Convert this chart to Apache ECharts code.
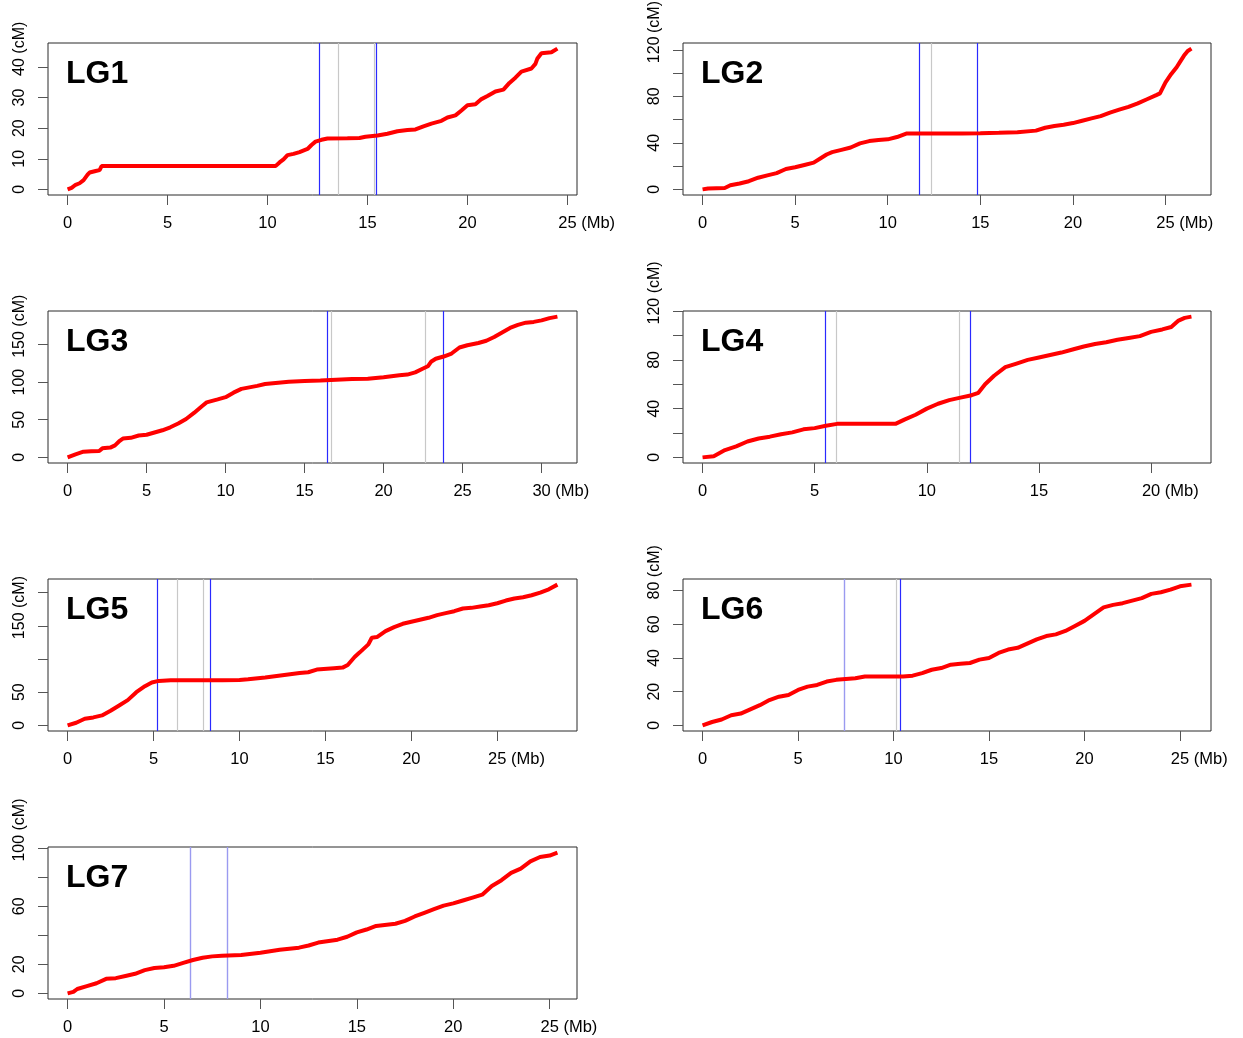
<!DOCTYPE html>
<html><head><meta charset="utf-8">
<script src="https://cdn.jsdelivr.net/npm/echarts@6/dist/echarts.min.js"></script>
<style>html,body{margin:0;padding:0;background:#fff}#c{width:1243px;height:1038px}</style>
</head><body><div id="c"></div>
<script>
// ---------- data (physical position in Mb, genetic position in cM) ----------
const lg1Pos = [0,0.2,0.4,0.6,0.8,1.0,1.1,1.4,1.6,1.7,3,5,7,9,10.4,10.6,10.8,11.0,11.3,11.6,12.0,12.2,12.4,12.7,13.0,14.0,14.6,14.9,15.5,16.0,16.5,17.0,17.4,17.8,18.2,18.7,19.0,19.4,19.7,20.0,20.4,20.7,21.0,21.4,21.8,22.1,22.4,22.7,23.2,23.4,23.5,23.7,24.2,24.5];
const lg1CM  = [0,0.5,1.5,2,3,4.8,5.5,6,6.3,7.6,7.6,7.6,7.6,7.6,7.6,8.8,9.8,11.2,11.6,12.2,13.2,14.5,15.6,16.2,16.6,16.7,16.8,17.2,17.6,18.2,19.0,19.4,19.6,20.6,21.5,22.4,23.5,24.2,25.8,27.5,27.8,29.5,30.5,32,32.6,34.8,36.5,38.5,39.5,41,42.8,44.5,44.8,46];
const lg2Pos = [0,0.3,1.2,1.5,2.0,2.5,3.0,3.5,4.0,4.5,5.0,5.5,6.0,6.4,6.7,7.0,7.5,8.0,8.5,9.0,9.5,10.0,10.5,11.0,12,13,14,15,16,17,18,18.5,19,19.5,20,20.5,21,21.5,22,22.5,23,23.5,24,24.5,24.7,25.0,25.3,25.6,25.8,26.0,26.2,26.4];
const lg2CM  = [0,0.8,1.2,3.5,5,7,10,12,14,17.5,19,21,23,27,30,32,34,36,39.5,41.5,42.5,43,45,48,48,48,48,48.2,48.6,49.2,50.5,53,54.5,55.5,57,59,61,63,66,68.5,71,74,77.5,81,82.5,92,99,105,110,115,119,121];
const lg3Pos = [0,0.5,1.0,1.5,2.0,2.2,2.7,3.0,3.3,3.5,4.0,4.5,5.0,5.5,6.0,6.5,7.0,7.5,8.0,8.5,8.8,9.5,10.0,10.5,11.0,11.5,12.0,12.5,13.0,14.0,15.0,16.0,17.0,18.0,19.0,20.0,21.0,21.5,22.0,22.5,22.8,23.0,23.3,23.8,24.3,24.8,25.3,26,26.5,27,27.5,28,28.5,29,29.5,30,30.5,31.0];
const lg3CM  = [0,4,7.5,8,8.5,12,13,16,22,25,26,29,30,33,36,40,45,51,59,68,73,77,80,86,91,93,95,97.5,98.5,100.5,101.5,102,103,104,104.5,106.5,109,110,113,118,121,127,131,134,138,146,149,152,155,160,166,172,176,179,180,182,185,187];
const lg4Pos = [0,0.5,1.0,1.5,2.0,2.5,3.0,3.5,4.0,4.5,5.0,5.5,6.0,7,8,8.6,9.0,9.5,10.0,10.5,11.0,11.5,12.0,12.3,12.6,13.0,13.5,14.0,14.5,15.0,15.5,16.0,16.5,17.0,17.5,18.0,18.5,19.0,19.5,20.0,20.5,20.9,21.2,21.5,21.8];
const lg4CM  = [0,1,6,9,13,15.5,17,19,20.5,23,24,26,27.5,27.5,27.5,27.5,31,35,40,44,47,49,51,53,60,67,74,77,80,82,84,86,88.5,91,93,94.5,96.5,98,99.5,103,105,107,112,114.5,115.5];
const lg5Pos = [0,0.5,1.0,1.5,2.0,2.5,3.0,3.5,4.0,4.5,4.9,5.3,6,7,8,9,10,10.5,11.5,12.5,13.5,14.0,14.5,15.5,16.0,16.3,16.7,17.0,17.5,17.7,18.0,18.5,19.0,19.5,20.0,20.5,21.0,21.5,22.0,22.5,23.0,23.5,24.0,24.5,25.0,25.5,26.0,26.5,27.0,27.5,28.0,28.5];
const lg5CM  = [0,4,10,12,15,22,30,38,50,59,64.6,67,68,68,68,68,68.5,69.5,72,75.5,79,80,84,86,87,91,103,110,122,132,133,142,148,153,156,159,162,166,169,172,176,177,179,181,184,188,191,193,196,200,205,212];
const lg6Pos = [0,0.5,1.0,1.5,2.0,2.5,3.0,3.5,4.0,4.5,5.0,5.5,6.0,6.5,7.0,7.5,8.0,8.5,9.5,10.5,11.0,11.5,12.0,12.5,13.0,13.5,14.0,14.5,15.0,15.5,16.0,16.5,17.0,17.5,18.0,18.5,19.0,19.5,20.0,20.5,21.0,21.5,22.0,22.5,23.0,23.5,24.0,24.5,25.0,25.6];
const lg6CM  = [0,2,3.5,6,7,9.5,12,15,17,18,21,23,24,26,27,27.5,28,29,29,29,29.5,31,33,34,36,36.5,37,39,40,43,45,46,48.5,51,53,54,56,59,62,66,70,71.5,72.5,74,75.5,78,79,80.5,82.5,83.5];
const lg7Pos = [0,0.3,0.5,1.0,1.5,2.0,2.5,3.0,3.5,4.0,4.5,5.0,5.5,6.0,6.5,7.0,7.5,8.0,9.0,10.0,11.0,12.0,12.5,13.0,14.0,14.5,15.0,15.5,16.0,17.0,17.5,18.0,18.5,19.0,19.5,20.0,20.5,21.0,21.5,22.0,22.5,23.0,23.5,24.0,24.5,25.0,25.4];
const lg7CM  = [0,1,3,5,7,10,10.5,12,13.5,16,17.5,18,19,21,23,24.5,25.5,26,26.5,28,30,31.5,33,35,37,39,42,44,46.5,48,50,53,55.5,58,60.5,62,64,66,68,74,78,83,86,91,94,95,97];

// vertical marker positions (Mb)
const lg1Blue = [12.6, 15.42]; const lg1Gray = [13.55, 15.35]; const lg1Light = [];
const lg2Blue = [11.68, 14.85]; const lg2Gray = [12.33];       const lg2Light = [];
const lg3Blue = [16.42, 23.78]; const lg3Gray = [16.68, 22.64]; const lg3Light = [];
const lg4Blue = [5.46, 11.92];  const lg4Gray = [5.95, 11.45];  const lg4Light = [];
const lg5Blue = [5.23, 8.31];   const lg5Gray = [6.4, 7.9];     const lg5Light = [];
const lg6Blue = [10.33];        const lg6Gray = [10.12];        const lg6Light = [7.44];
const lg7Blue = [];             const lg7Gray = [];             const lg7Light = [6.34, 8.26];

// tick values and labels
const lg1XTicks = [0,5,10,15,20,25]; const lg1YTicks = [0,10,20,30,40];             const lg1YLabels = [0,10,20,30,40];
const lg2XTicks = [0,5,10,15,20,25]; const lg2YTicks = [0,20,40,60,80,100,120];     const lg2YLabels = [0,40,80,120];
const lg3XTicks = [0,5,10,15,20,25,30]; const lg3YTicks = [0,50,100,150];           const lg3YLabels = [0,50,100,150];
const lg4XTicks = [0,5,10,15,20];    const lg4YTicks = [0,20,40,60,80,100,120];     const lg4YLabels = [0,40,80,120];
const lg5XTicks = [0,5,10,15,20,25]; const lg5YTicks = [0,50,100,150,200];          const lg5YLabels = [0,50,150];
const lg6XTicks = [0,5,10,15,20,25]; const lg6YTicks = [0,20,40,60,80];             const lg6YLabels = [0,20,40,60,80];
const lg7XTicks = [0,5,10,15,20,25]; const lg7YTicks = [0,20,40,60,80,100];         const lg7YLabels = [0,20,60,100];

const panelNames = ['LG1','LG2','LG3','LG4','LG5','LG6','LG7'];

// ---------- build ----------
const panels = [
  {pos:lg1Pos, cm:lg1CM, blue:lg1Blue, gray:lg1Gray, light:lg1Light, xt:lg1XTicks, yt:lg1YTicks, yl:lg1YLabels},
  {pos:lg2Pos, cm:lg2CM, blue:lg2Blue, gray:lg2Gray, light:lg2Light, xt:lg2XTicks, yt:lg2YTicks, yl:lg2YLabels},
  {pos:lg3Pos, cm:lg3CM, blue:lg3Blue, gray:lg3Gray, light:lg3Light, xt:lg3XTicks, yt:lg3YTicks, yl:lg3YLabels},
  {pos:lg4Pos, cm:lg4CM, blue:lg4Blue, gray:lg4Gray, light:lg4Light, xt:lg4XTicks, yt:lg4YTicks, yl:lg4YLabels},
  {pos:lg5Pos, cm:lg5CM, blue:lg5Blue, gray:lg5Gray, light:lg5Light, xt:lg5XTicks, yt:lg5YTicks, yl:lg5YLabels},
  {pos:lg6Pos, cm:lg6CM, blue:lg6Blue, gray:lg6Gray, light:lg6Light, xt:lg6XTicks, yt:lg6YTicks, yl:lg6YLabels},
  {pos:lg7Pos, cm:lg7CM, blue:lg7Blue, gray:lg7Gray, light:lg7Light, xt:lg7XTicks, yt:lg7YTicks, yl:lg7YLabels}
];

const FONT = '"Liberation Sans", Arial, Helvetica, sans-serif';
const FSX = 16.5, FSY = 16;
const colLeft = [48, 683], colWidth = [529, 528];
const rowTop = [43, 311, 579, 847], boxH = 152;
const XMARGIN = 20, YMARGIN = 20;

function ext(arr){ const mn=Math.min(...arr), mx=Math.max(...arr), d=(mx-mn)*0.04; return [mn-d, mx+d]; }

const grids=[], xAxes=[], yAxes=[], series=[], titles=[];
panels.forEach((p,i)=>{
  const col=i%2, row=Math.floor(i/2);
  const g={left:colLeft[col], top:rowTop[row], width:colWidth[col], height:boxH};
  p.grid=g;
  grids.push(Object.assign({show:true, borderColor:'#2a2a2a', borderWidth:1, backgroundColor:'transparent'}, g));
  const [x0,x1]=ext(p.pos), [y0,y1]=ext(p.cm);
  p.x0=x0; p.y0=y0;
  xAxes.push({type:'value', gridIndex:i, min:x0, max:x1, position:'bottom',
    axisLine:{show:false, onZero:false}, splitLine:{show:false},
    axisTick:{show:true, inside:false, length:10, lineStyle:{color:'#555', width:1}, customValues:p.xt},
    axisLabel:{customValues:p.xt, margin:XMARGIN, fontSize:FSX, fontFamily:FONT, color:'#000', hideOverlap:false}
  });
  yAxes.push({type:'value', gridIndex:i, min:y0, max:y1, position:'left',
    axisLine:{show:false, onZero:false}, splitLine:{show:false},
    axisTick:{show:true, inside:false, length:10, lineStyle:{color:'#555', width:1}, customValues:p.yt},
    axisLabel:{customValues:p.yl, rotate:90, margin:YMARGIN, fontSize:FSY, fontFamily:FONT, color:'#000', hideOverlap:false}
  });
  const ml=[];
  p.gray.forEach(v=>ml.push({xAxis:v, lineStyle:{color:'#c8c8c8', width:1.2, type:'solid'}}));
  p.light.forEach(v=>ml.push({xAxis:v, lineStyle:{color:'#9a9af0', width:1.4, type:'solid'}}));
  p.blue.forEach(v=>ml.push({xAxis:v, lineStyle:{color:'#2a2aff', width:1.2, type:'solid'}}));
  series.push({type:'line', xAxisIndex:i, yAxisIndex:i, data:[[p.pos[0],p.cm[0]]], showSymbol:false,
    lineStyle:{opacity:0}, z:1, silent:true,
    markLine:{silent:true, symbol:['none','none'], label:{show:false}, animation:false, data:ml}});
  series.push({type:'line', xAxisIndex:i, yAxisIndex:i, data:p.pos.map((x,j)=>[x,p.cm[j]]),
    showSymbol:false, lineStyle:{color:'#ff0000', width:4}, z:10, silent:true});
  titles.push({text:panelNames[i], left:g.left+18, top:g.top+15, padding:0,
    textStyle:{fontSize:32, fontWeight:'bold', fontFamily:FONT, color:'#000'}});
});

const chart = echarts.init(document.getElementById('c'), null, {renderer:'canvas'});
chart.setOption({animation:false, backgroundColor:'#fff', title:titles, grid:grids, xAxis:xAxes, yAxis:yAxes, series:series});

// unit texts "(Mb)" / "(cM)" following the last labelled tick
const ctx=document.createElement('canvas').getContext('2d');
const tw = (s,fs)=>{ ctx.font = fs+'px '+FONT; return ctx.measureText(s).width; };
const graphics=[];
panels.forEach((p,i)=>{
  const g=p.grid;
  const xv=p.xt[p.xt.length-1];
  const px=chart.convertToPixel({gridIndex:i},[xv,p.y0]);
  graphics.push({type:'text', x:px[0]+tw(String(xv),FSX)/2+tw(' ',FSX), y:g.top+g.height+XMARGIN, silent:true,
    style:{text:'(Mb)', fill:'#000', fontSize:FSX, fontFamily:FONT, align:'left', verticalAlign:'top'}});
  const yv=p.yl[p.yl.length-1];
  const py=chart.convertToPixel({gridIndex:i},[p.x0,yv]);
  const yStart=Math.max(py[1]-tw(String(yv),FSY)/2-tw(' ',FSY), tw('(cM)',FSY)+1);
  graphics.push({type:'text', x:g.left-YMARGIN, y:yStart, rotation:Math.PI/2, silent:true,
    style:{text:'(cM)', fill:'#000', fontSize:FSY, fontFamily:FONT, align:'left', verticalAlign:'bottom'}});
});
chart.setOption({graphic:graphics});
</script>
</body></html>
